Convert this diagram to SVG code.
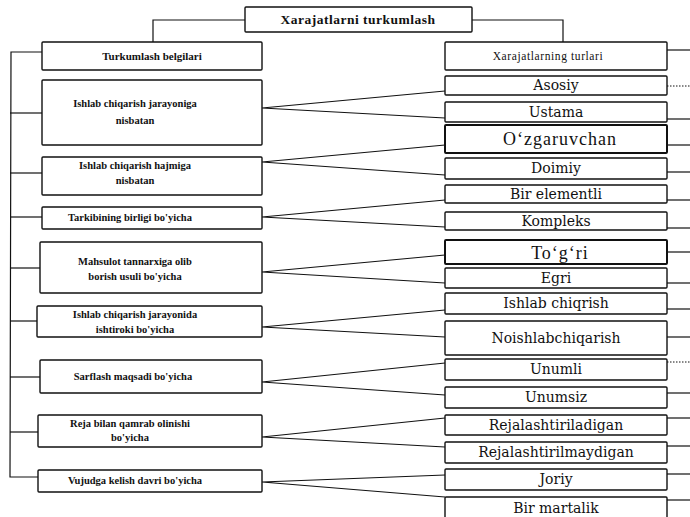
<svg xmlns="http://www.w3.org/2000/svg" width="690" height="517" viewBox="0 0 690 517">
<style>
.b{fill:#fff;stroke:#111;stroke-width:1.4}
.bt{fill:#fff;stroke:#111;stroke-width:2}
.c{fill:none;stroke:#111;stroke-width:1.2}
.d{fill:none;stroke:#111;stroke-width:1;stroke-dasharray:1.5 1.5}
.l{font-family:"Liberation Serif",serif;font-weight:bold;font-size:10.5px;fill:#111;text-anchor:middle}
.r{font-family:"DejaVu Serif",serif;font-size:14px;fill:#111;text-anchor:middle}
.rb{font-family:"Liberation Serif",serif;font-size:18px;letter-spacing:1px;fill:#111;text-anchor:middle}
.t{font-family:"Liberation Serif",serif;font-weight:bold;font-size:13.5px;letter-spacing:0.5px;fill:#111;text-anchor:middle}
.h{font-family:"Liberation Serif",serif;font-size:11.5px;letter-spacing:0.6px;fill:#111;text-anchor:middle}
</style>
<rect width="690" height="517" fill="#fff"/>
<g id="connectors">
<polyline class="c" points="245,20 153,20 153,42"/>
<polyline class="c" points="472,20 563,20 563,42"/>
<polyline class="c" points="42,52 11,52 10,477 38,477"/>
<line class="c" x1="10" y1="113" x2="42" y2="113"/>
<line class="c" x1="10" y1="173" x2="42" y2="173"/>
<line class="c" x1="10" y1="217" x2="42" y2="217"/>
<line class="c" x1="10" y1="268" x2="40" y2="268"/>
<line class="c" x1="10" y1="321" x2="37" y2="321"/>
<line class="c" x1="10" y1="377" x2="40" y2="377"/>
<line class="c" x1="10" y1="432" x2="38" y2="432"/>
<polyline class="c" points="445,91 262,108 445,118"/>
<polyline class="c" points="445,145 262,162 445,175"/>
<polyline class="c" points="445,200 262,217 445,227"/>
<polyline class="c" points="445,255 262,272 445,283"/>
<polyline class="c" points="445,310 262,327 445,337"/>
<polyline class="c" points="445,363 262,382 445,395"/>
<polyline class="c" points="445,418 262,437 445,447"/>
<polyline class="c" points="445,475 262,482 445,497"/>
<line class="c" x1="667" y1="50" x2="690" y2="50"/>
<line class="d" x1="667" y1="86" x2="690" y2="86"/>
<line class="c" x1="667" y1="119" x2="690" y2="119"/>
<line class="c" x1="667" y1="145" x2="690" y2="145"/>
<line class="c" x1="667" y1="172" x2="690" y2="172"/>
<line class="c" x1="667" y1="200" x2="690" y2="200"/>
<line class="c" x1="667" y1="228" x2="690" y2="228"/>
<line class="c" x1="667" y1="252" x2="690" y2="252"/>
<line class="c" x1="667" y1="283" x2="690" y2="283"/>
<line class="c" x1="667" y1="309" x2="690" y2="309"/>
<line class="c" x1="667" y1="337" x2="690" y2="337"/>
<line class="d" x1="667" y1="362" x2="690" y2="362"/>
<line class="c" x1="667" y1="393" x2="690" y2="393"/>
<line class="c" x1="667" y1="418" x2="690" y2="418"/>
<line class="c" x1="667" y1="446" x2="690" y2="446"/>
<line class="c" x1="667" y1="474" x2="690" y2="474"/>
<line class="c" x1="667" y1="500" x2="690" y2="500"/>
</g>
<g id="title"><rect class="b" x="245" y="7" width="227" height="25" rx="1"/><text class="t" x="358" y="24">Xarajatlarni turkumlash</text></g>
<g id="belgilar"><rect class="b" x="42" y="42" width="220" height="28" rx="1"/><text class="l" x="152" y="60" style="font-size:11px">Turkumlash belgilari</text></g>
<g id="l1"><rect class="b" x="42" y="80" width="220" height="65" rx="1"/><text class="l" x="135" y="107">Ishlab chiqarish jarayoniga</text><text class="l" x="135" y="124">nisbatan</text></g>
<g id="l2"><rect class="b" x="42" y="157" width="220" height="38" rx="1"/><text class="l" x="135" y="169">Ishlab chiqarish hajmiga</text><text class="l" x="135" y="184">nisbatan</text></g>
<g id="l3"><rect class="b" x="42" y="207" width="220" height="22" rx="1"/><text class="l" x="130" y="221">Tarkibining birligi bo'yicha</text></g>
<g id="l4"><rect class="b" x="40" y="242" width="222" height="51" rx="1"/><text class="l" x="135" y="265">Mahsulot tannarxiga olib</text><text class="l" x="135" y="280">borish usuli bo'yicha</text></g>
<g id="l5"><rect class="b" x="37" y="306" width="225" height="31" rx="1"/><text class="l" x="135" y="318">Ishlab chiqarish jarayonida</text><text class="l" x="135" y="333">ishtiroki bo'yicha</text></g>
<g id="l6"><rect class="b" x="40" y="360" width="222" height="33" rx="1"/><text class="l" x="133" y="380">Sarflash maqsadi bo'yicha</text></g>
<g id="l7"><rect class="b" x="38" y="415" width="224" height="32" rx="1"/><text class="l" x="130" y="427">Reja bilan qamrab olinishi</text><text class="l" x="130" y="441">bo'yicha</text></g>
<g id="l8"><rect class="b" x="38" y="470" width="224" height="22" rx="1"/><text class="l" x="135" y="484">Vujudga kelish davri bo'yicha</text></g>
<g id="turlari"><rect class="b" x="445" y="42" width="222" height="28" rx="1"/><text class="h" x="548" y="60">Xarajatlarning turlari</text></g>
<g id="r1"><rect class="b" x="445" y="76" width="222" height="19" rx="1"/><text class="r" x="556" y="90">Asosiy</text></g>
<g id="r2"><rect class="b" x="445" y="102" width="222" height="20" rx="1"/><text class="r" x="556" y="117">Ustama</text></g>
<g id="r3"><rect class="bt" x="445" y="125" width="222" height="28" rx="1"/><text class="rb" x="560" y="145">O‘zgaruvchan</text></g>
<g id="r4"><rect class="b" x="445" y="158" width="222" height="21" rx="1"/><text class="r" x="556" y="173">Doimiy</text></g>
<g id="r5"><rect class="b" x="445" y="185" width="222" height="18" rx="1"/><text class="r" x="556" y="199">Bir elementli</text></g>
<g id="r6"><rect class="b" x="445" y="212" width="222" height="18" rx="1"/><text class="r" x="556" y="226">Kompleks</text></g>
<g id="r7"><rect class="bt" x="445" y="240" width="222" height="24" rx="1"/><text class="rb" x="560" y="259">To‘g‘ri</text></g>
<g id="r8"><rect class="b" x="445" y="268" width="222" height="20" rx="1"/><text class="r" x="556" y="283">Egri</text></g>
<g id="r9"><rect class="b" x="445" y="293" width="222" height="21" rx="1"/><text class="r" x="556" y="308">Ishlab chiqrish</text></g>
<g id="r10"><rect class="b" x="445" y="321" width="222" height="34" rx="1"/><text class="r" x="556" y="343">Noishlabchiqarish</text></g>
<g id="r11"><rect class="b" x="445" y="359" width="222" height="21" rx="1"/><text class="r" x="556" y="374">Unumli</text></g>
<g id="r12"><rect class="b" x="445" y="387" width="222" height="21" rx="1"/><text class="r" x="556" y="402">Unumsiz</text></g>
<g id="r13"><rect class="b" x="445" y="415" width="222" height="20" rx="1"/><text class="r" x="556" y="430">Rejalashtiriladigan</text></g>
<g id="r14"><rect class="b" x="445" y="442" width="222" height="21" rx="1"/><text class="r" x="556" y="457">Rejalashtirilmaydigan</text></g>
<g id="r15"><rect class="b" x="445" y="469" width="222" height="21" rx="1"/><text class="r" x="556" y="484">Joriy</text></g>
<g id="r16"><rect class="b" x="445" y="497" width="222" height="26" rx="1"/><text class="r" x="556" y="513">Bir martalik</text></g>
</svg>
